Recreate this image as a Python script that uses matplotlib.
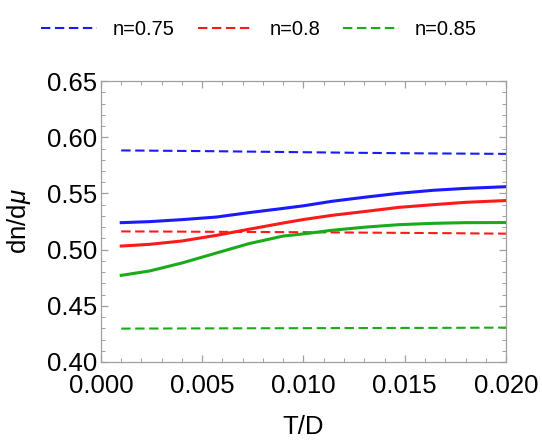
import matplotlib
matplotlib.use("Agg")
import matplotlib.pyplot as plt
from matplotlib.ticker import MultipleLocator, FormatStrFormatter

plt.rcParams['font.family'] = ['Liberation Sans', 'DejaVu Sans']
plt.rcParams['mathtext.fontset'] = 'custom'
plt.rcParams['mathtext.it'] = 'Liberation Sans:italic'

T_solid = [0.001, 0.0024, 0.0040, 0.0057, 0.0073, 0.0090, 0.0100,
           0.0114, 0.0131, 0.0147, 0.0164, 0.0180, 0.020]
solid_075 = [0.5240, 0.5249, 0.5267, 0.5290, 0.5329, 0.5367, 0.5390,
             0.5430, 0.5468, 0.5501, 0.5528, 0.5545, 0.5560]
solid_080 = [0.5032, 0.5047, 0.5077, 0.5127, 0.5181, 0.5237, 0.5268,
             0.5305, 0.5341, 0.5376, 0.5400, 0.5421, 0.5437]
solid_085 = [0.4771, 0.4810, 0.4881, 0.4970, 0.5053, 0.5121, 0.5140,
             0.5172, 0.5201, 0.5222, 0.5234, 0.5240, 0.5241]

T_dash = [0.001, 0.003, 0.005, 0.0075, 0.010, 0.0125, 0.015, 0.0175, 0.020]
dash_075 = [0.5883, 0.5880, 0.5877, 0.5872, 0.5867, 0.5862, 0.5858, 0.5855, 0.5852]
dash_080 = [0.5162, 0.5161, 0.5159, 0.5157, 0.5155, 0.5152, 0.5149, 0.5146, 0.5142]
dash_085 = [0.4297, 0.4298, 0.4299, 0.4300, 0.4301, 0.4302, 0.4303, 0.4304, 0.4306]
labels = ["n=0.75", "n=0.8", "n=0.85"]
colors = ['#1a1aff', '#ff1a1a', '#1aaa1a']

fig = plt.figure(figsize=(5.42, 4.48), dpi=100)
ax = fig.add_axes([0.1863, 0.192, 0.7473, 0.627])

handles = []
for s, d, c, lab in zip([solid_075, solid_080, solid_085],
                        [dash_075, dash_080, dash_085], colors, labels):
    h, = ax.plot(T_dash, d, color=c, lw=1.5, dashes=(4.5, 2.2), label=lab)
    ax.plot(T_solid, s, color=c, lw=2.2, solid_joinstyle='round')
    handles.append(h)

ax.set_xlim(0, 0.02)
ax.set_ylim(0.40, 0.65)
ax.xaxis.set_major_locator(MultipleLocator(0.005))
ax.xaxis.set_minor_locator(MultipleLocator(0.001))
ax.yaxis.set_major_locator(MultipleLocator(0.05))
ax.yaxis.set_minor_locator(MultipleLocator(0.01))
ax.xaxis.set_major_formatter(FormatStrFormatter('%.3f'))
ax.yaxis.set_major_formatter(FormatStrFormatter('%.2f'))
for sp in ax.spines.values():
    sp.set_color('#a0a0a0')
    sp.set_linewidth(0.9)
ax.tick_params(which='both', direction='in', top=True, right=True,
               color='#a0a0a0', labelsize=18.5, labelcolor='black')
ax.tick_params(which='major', length=5, width=0.9)
ax.tick_params(which='minor', length=3, width=0.7)
ax.tick_params(axis='x', which='major', pad=9)
ax.tick_params(axis='y', which='major', pad=3)
ax.set_xlabel('T/D', fontsize=18.5, labelpad=12)
ax.set_ylabel('dn/d$\\mathit{\\mu}$', fontsize=18.5, labelpad=10)

fig.legend(handles=handles, labels=labels, loc='upper center',
           bbox_to_anchor=(0.478, 1.0), ncol=3, frameon=False,
           fontsize=14.5, handlelength=2.75, handletextpad=0.8,
           columnspacing=1.15, borderaxespad=0.6)

fig.savefig('out.png', dpi=100)
